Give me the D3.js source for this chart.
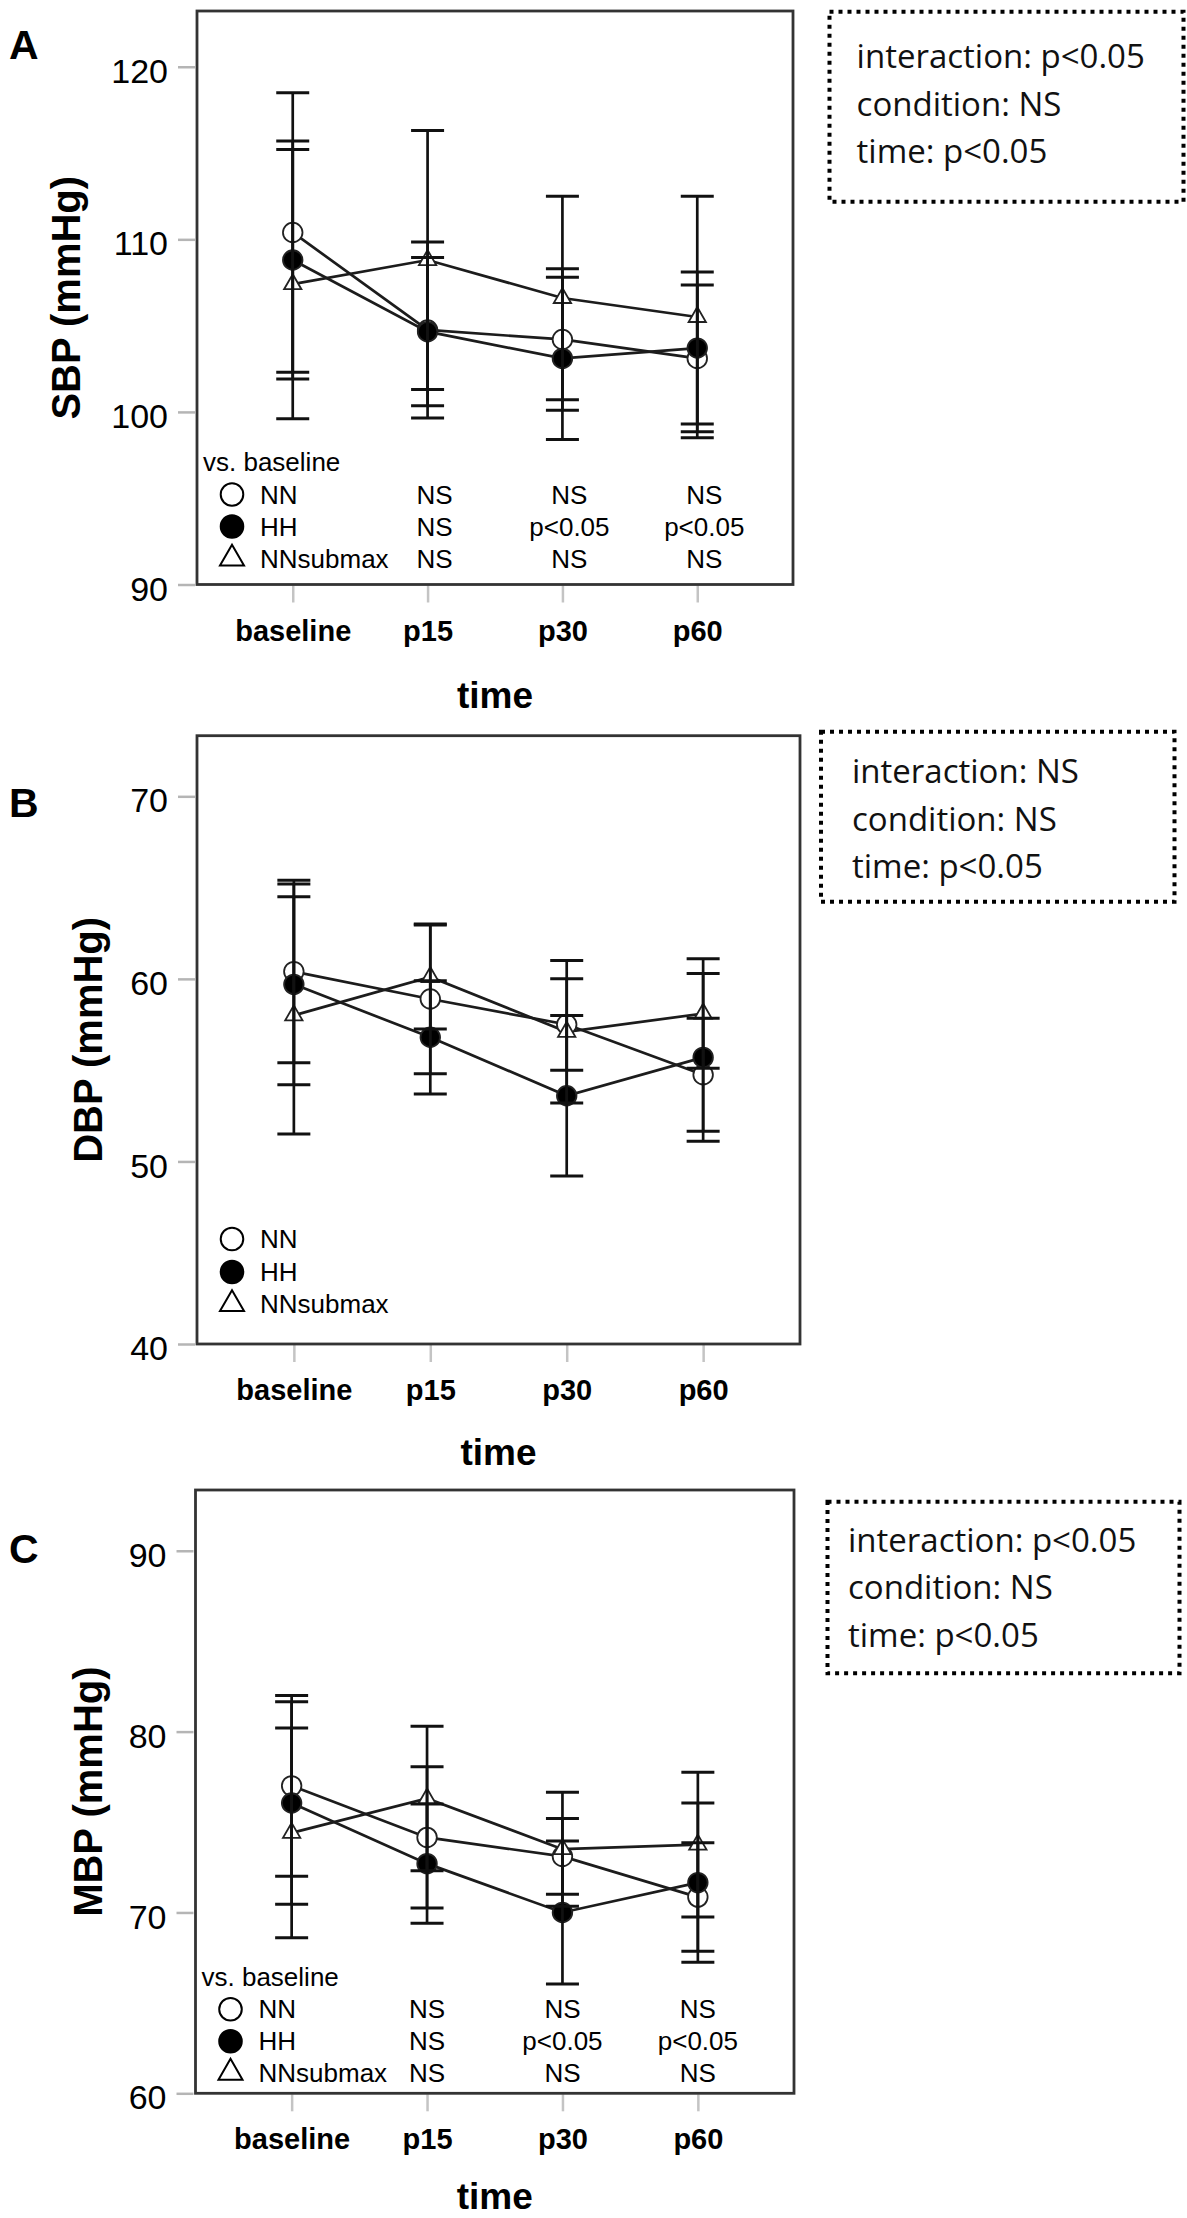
<!DOCTYPE html>
<html>
<head>
<meta charset="utf-8">
<script src="https://cdn.jsdelivr.net/npm/d3@7/dist/d3.min.js"></script>
<style>
    body { margin: 0; background: #fff; }
    svg { display: block; }
</style>
</head>
<body>
<div id="chart"></div>
<script>
// Categories
const times = ['baseline', 'p15', 'p30', 'p60']
const groups = ['NN', 'HH', 'NNsubmax']

// A: SBP (mean and error bar half-width)
const sbpTicks = [90, 100, 110, 120]
const sbpNN = [110.4, 104.75, 104.2, 103.1]
const sbpHH = [108.8, 104.65, 103.1, 103.7]
const sbpSub = [107.4, 108.8, 106.6, 105.5]
const sbpErrNN = [8.1, 5.1, 4.1, 4.25]
const sbpErrHH = [6.9, 4.3, 4.7, 4.4]
const sbpErrSub = [7.8, 7.5, 5.9, 7.0]
const sbpStats = ['interaction: p<0.05', 'condition: NS', 'time: p<0.05']

// B: DBP
const dbpTicks = [40, 50, 60, 70]
const dbpNN = [60.4, 58.9, 57.5, 54.75]
const dbpHH = [59.7, 56.8, 53.6, 55.7]
const dbpSub = [58.0, 60.1, 57.1, 58.1]
const dbpErrNN = [5.0, 4.1, 2.5, 3.1]
const dbpErrHH = [5.5, 3.1, 4.4, 4.6]
const dbpErrSub = [6.5, 2.85, 3.9, 3.0]
const dbpStats = ['interaction: NS', 'condition: NS', 'time: p<0.05']

// C: MBP
const mbpTicks = [60, 70, 80, 90]
const mbpNN = [77.0, 74.15, 73.1, 70.85]
const mbpHH = [76.05, 72.7, 70.0, 71.65]
const mbpSub = [74.4, 76.3, 73.5, 73.75]
const mbpErrNN = [5.0, 3.9, 2.1, 3.0]
const mbpErrHH = [5.6, 3.3, 3.95, 4.4]
const mbpErrSub = [5.8, 4.0, 3.15, 4.0]
const mbpStats = ['interaction: p<0.05', 'condition: NS', 'time: p<0.05']

// vs. baseline comparisons (p15, p30, p60)
const sigNN = ['NS', 'NS', 'NS']
const sigHH = ['NS', 'p<0.05', 'p<0.05']
const sigSub = ['NS', 'NS', 'NS']

const arial = '"Liberation Sans", Arial, sans-serif'
const statFont = '"Open Sans", "Noto Sans", sans-serif'

// Panel layout (positions only, values come from the arrays above)
const panels = [
    {
        letter: 'A', title: 'SBP (mmHg)', ticks: sbpTicks, top: 123.23,
        means: [sbpNN, sbpHH, sbpSub], errs: [sbpErrNN, sbpErrHH, sbpErrSub],
        sig: [sigNN, sigHH, sigSub], stats: sbpStats,
        box: { x0: 197, x1: 793, y0: 11, y1: 584.5 },
        letterY: 59, titleX: 80, timeY: 123,
        vsY: -114, rowY: [-81, -49, -17], colOffset: 7,
        stat: { x: 829.5, y: 11.7, w: 354, h: 190, tx: 856.6, ty: 68 }
    },
    {
        letter: 'B', title: 'DBP (mmHg)', ticks: dbpTicks, top: 73.32,
        means: [dbpNN, dbpHH, dbpSub], errs: [dbpErrNN, dbpErrHH, dbpErrSub],
        sig: null, stats: dbpStats,
        box: { x0: 197, x1: 800, y0: 735.7, y1: 1344 },
        letterY: 817, titleX: 102, timeY: 121,
        vsY: null, rowY: [-96, -63, -31], colOffset: 0,
        stat: { x: 821, y: 731.7, w: 353.5, h: 170, tx: 852, ty: 783 }
    },
    {
        letter: 'C', title: 'MBP (mmHg)', ticks: mbpTicks, top: 93.36,
        means: [mbpNN, mbpHH, mbpSub], errs: [mbpErrNN, mbpErrHH, mbpErrSub],
        sig: [sigNN, sigHH, sigSub], stats: mbpStats,
        box: { x0: 195.5, x1: 794, y0: 1490, y1: 2093.3 },
        letterY: 1563, titleX: 102, timeY: 116,
        vsY: -107, rowY: [-75, -43, -11.6], colOffset: 0,
        stat: { x: 827.5, y: 1501.7, w: 352, h: 171.6, tx: 848, ty: 1551.7 }
    }
]

// Create SVG element
let svg = d3.select('#chart')
            .append('svg')
            .attr('width', 1187)
            .attr('height', 2218)

const markerPath = (group, area) => {
    let type = group === 'NNsubmax' ? d3.symbolTriangle : d3.symbolCircle
    return d3.symbol().type(type).size(area)()
}

const markerFill = (group) => {
    return group === 'HH' ? '#000' : '#fff'
}

const drawPanel = (p) => {
    let g = svg.append('g').attr('class', 'panel-' + p.letter)
    let box = p.box

    // Create scales
    let xScale = d3.scalePoint()
    xScale.domain(times)
    xScale.range([box.x0, box.x1])
    xScale.padding(0.71)

    let yScale = d3.scaleLinear()
    yScale.domain([p.ticks[0], p.top])
    yScale.range([box.y1, box.y0])

    // Axes
    let yAxis = d3.axisLeft(yScale)
    yAxis.tickValues(p.ticks)
    yAxis.tickSize(17)
    yAxis.tickPadding(10)

    let yG = g.append('g')
        .attr('class', 'y-axis')
        .attr('transform', 'translate(' + (box.x0 - 2) + ',0)')
        .call(yAxis)
    yG.select('.domain').remove()
    yG.selectAll('line').attr('stroke', '#b5b5b5').attr('stroke-width', 2.5)
    yG.selectAll('text')
        .attr('dy', '0.46em')
        .attr('fill', '#000')
        .style('font-family', arial)
        .style('font-size', '34px')

    let xAxis = d3.axisBottom(xScale)
    xAxis.tickSize(17)

    let xG = g.append('g')
        .attr('class', 'x-axis')
        .attr('transform', 'translate(0,' + (box.y1 + 1) + ')')
        .call(xAxis)
    xG.select('.domain').remove()
    xG.selectAll('line').attr('stroke', '#c4c4c4').attr('stroke-width', 2.5)
    xG.selectAll('text')
        .attr('y', 55)
        .attr('dy', 0)
        .attr('fill', '#000')
        .style('font-family', arial)
        .style('font-size', '29px')
        .style('font-weight', 'bold')

    // Plot frame
    g.append('rect')
        .attr('x', box.x0)
        .attr('y', box.y0)
        .attr('width', box.x1 - box.x0)
        .attr('height', box.y1 - box.y0)
        .attr('fill', 'none')
        .attr('stroke', '#333')
        .attr('stroke-width', 2.8)

    // Panel letter and axis titles
    g.append('text')
        .attr('x', 9)
        .attr('y', p.letterY)
        .text(p.letter)
        .style('font-family', arial)
        .style('font-size', '41px')
        .style('font-weight', 'bold')

    g.append('text')
        .attr('transform', 'translate(' + p.titleX + ',' + ((box.y0 + box.y1) / 2) + ') rotate(-90)')
        .attr('text-anchor', 'middle')
        .text(p.title)
        .style('font-family', arial)
        .style('font-size', '40px')
        .style('font-weight', 'bold')

    g.append('text')
        .attr('x', (box.x0 + box.x1) / 2)
        .attr('y', box.y1 + p.timeY)
        .attr('text-anchor', 'middle')
        .text('time')
        .style('font-family', arial)
        .style('font-size', '37px')
        .style('font-weight', 'bold')

    // Series lines
    let line = d3.line()
        .x((d, i) => xScale(times[i]))
        .y((d) => yScale(d))

    g.append('g').selectAll('path')
        .data(p.means)
        .enter()
        .append('path')
        .attr('d', (d) => line(d))
        .attr('fill', 'none')
        .attr('stroke', '#1c1c1c')
        .attr('stroke-width', 2.7)

    // Markers
    groups.forEach((group, gi) => {
        g.append('g').selectAll('path')
            .data(p.means[gi])
            .enter()
            .append('path')
            .attr('d', markerPath(group, group === 'NNsubmax' ? 130 : 300))
            .attr('transform', (d, i) => 'translate(' + xScale(times[i]) + ',' + yScale(d) + ')')
            .attr('fill', markerFill(group))
            .attr('stroke', '#222')
            .attr('stroke-width', 1.8)
    })

    // Error bars
    groups.forEach((group, gi) => {
        let bars = p.means[gi].map((m, i) => {
            return { t: times[i], lo: m - p.errs[gi][i], hi: m + p.errs[gi][i] }
        })
        let eb = g.append('g')
            .attr('stroke', '#111')
            .attr('stroke-width', 2.7)
        eb.selectAll('.stem')
            .data(bars)
            .enter()
            .append('line')
            .attr('class', 'stem')
            .attr('x1', (d) => xScale(d.t))
            .attr('x2', (d) => xScale(d.t))
            .attr('y1', (d) => yScale(d.lo))
            .attr('y2', (d) => yScale(d.hi))
        eb.selectAll('.cap')
            .data(bars.flatMap((d) => [{ t: d.t, v: d.lo }, { t: d.t, v: d.hi }]))
            .enter()
            .append('line')
            .attr('class', 'cap')
            .attr('x1', (d) => xScale(d.t) - 16.5)
            .attr('x2', (d) => xScale(d.t) + 16.5)
            .attr('y1', (d) => yScale(d.v))
            .attr('y2', (d) => yScale(d.v))
            .attr('stroke-width', 3)
    })

    // Legend inside the frame
    let leg = g.append('g')
        .style('font-family', arial)
        .style('font-size', '26px')

    if (p.vsY !== null) {
        leg.append('text')
            .attr('x', box.x0 + 6)
            .attr('y', box.y1 + p.vsY)
            .text('vs. baseline')
    }

    groups.forEach((group, gi) => {
        let rowY = box.y1 + p.rowY[gi]
        leg.append('path')
            .attr('d', markerPath(group, group === 'NNsubmax' ? 250 : 400))
            .attr('transform', 'translate(' + (box.x0 + 35) + ',' + (rowY - 9) + ')')
            .attr('fill', markerFill(group))
            .attr('stroke', '#000')
            .attr('stroke-width', 2)
        leg.append('text')
            .attr('x', box.x0 + 63)
            .attr('y', rowY)
            .text(group)

        if (p.sig) {
            leg.selectAll('.sig-' + gi)
                .data(p.sig[gi])
                .enter()
                .append('text')
                .attr('class', 'sig-' + gi)
                .attr('x', (d, i) => xScale(times[i + 1]) + p.colOffset)
                .attr('y', rowY)
                .attr('text-anchor', 'middle')
                .text((d) => d)
        }
    })

    // Statistics box
    let st = p.stat
    g.append('rect')
        .attr('x', st.x)
        .attr('y', st.y)
        .attr('width', st.w)
        .attr('height', st.h)
        .attr('fill', 'none')
        .attr('stroke', '#000')
        .attr('stroke-width', 4)
        .attr('stroke-dasharray', '4,5')

    g.append('g').selectAll('text')
        .data(p.stats)
        .enter()
        .append('text')
        .attr('x', st.tx)
        .attr('y', (d, i) => st.ty + i * 47.5)
        .text((d) => d)
        .style('font-family', statFont)
        .style('font-size', '33px')
        .attr('fill', '#111')
}

panels.forEach((p) => {
    drawPanel(p)
})
</script>
</body>
</html>
